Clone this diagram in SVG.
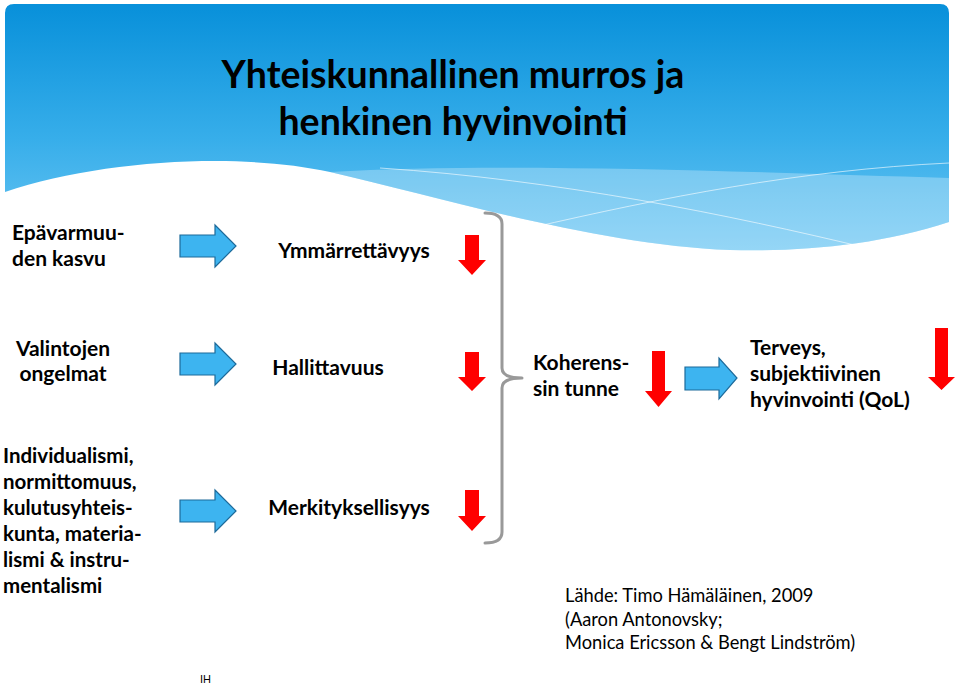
<svg xmlns="http://www.w3.org/2000/svg" width="960" height="684" viewBox="0 0 960 684">
<defs>
<linearGradient id="hdr" x1="0" y1="0" x2="0" y2="1">
<stop offset="0" stop-color="#0890da"/>
<stop offset="0.55" stop-color="#37aeea"/>
<stop offset="1" stop-color="#6cc6f3"/>
</linearGradient>
<path id="blueArrow" d="M0,-11 L35,-11 L35,-21 L56,0 L35,21 L35,11 L0,11 Z"/>
</defs>
<style>
.t{font-family:Lato,"Open Sans","DejaVu Sans",sans-serif;font-weight:bold;font-size:21px;fill:#000}
.l{font-size:20.5px}
.title{font-family:Lato,"Open Sans","DejaVu Sans",sans-serif;font-weight:bold;font-size:37.5px;fill:#000}
.src{font-family:Lato,"Open Sans","DejaVu Sans",sans-serif;font-size:18.3px;fill:#000}
.ba{fill:#3db4f0;stroke:#1d6a9a;stroke-width:1.2}
.ra{fill:#ff0000}
.brace{fill:none;stroke:#999;stroke-width:3;stroke-linecap:round;stroke-linejoin:round}
</style>
<rect width="960" height="684" fill="#fff"/>
<g id="header">
<path d="M5,13 Q5,4 14,4 L940,4 Q949,4 949,13 L949,222 C880,245 800,252 730,250 C600,245 450,200 330,172 C240,152 100,160 5,192 Z" fill="url(#hdr)"/>
<path d="M330,172 C500,162 750,172 949,178 L949,222 C880,245 800,252 730,250 C600,245 450,200 330,172 Z" fill="#fff" opacity="0.28"/>
<path d="M380,168 C560,180 730,215 867,248" fill="none" stroke="#fff" stroke-width="1" opacity="0.6"/>
<path d="M530,228 C660,198 800,170 949,163" fill="none" stroke="#fff" stroke-width="1" opacity="0.6"/>
<text class="title" x="453" y="88" text-anchor="middle">Yhteiskunnallinen murros ja</text>
<text class="title" x="453" y="135" text-anchor="middle">henkinen hyvinvointi</text>
</g>
<g id="n-epavarmuus"><text class="t" x="12" y="240">Epävarmuu-</text><text class="t" x="12" y="266">den kasvu</text></g>
<g id="n-valintojen"><text class="t" x="63" y="356" text-anchor="middle">Valintojen</text><text class="t" x="63" y="381" text-anchor="middle">ongelmat</text></g>
<g id="n-individualismi">
<text class="t l" x="3" y="463">Individualismi,</text>
<text class="t l" x="3" y="489">normittomuus,</text>
<text class="t l" x="3" y="515">kulutusyhteis-</text>
<text class="t l" x="3" y="541">kunta, materia-</text>
<text class="t l" x="3" y="567">lismi &amp; instru-</text>
<text class="t l" x="3" y="593">mentalismi</text>
</g>
<g id="n-ymmarrettavyys"><text class="t" x="354" y="258" text-anchor="middle">Ymmärrettävyys</text></g>
<g id="n-hallittavuus"><text class="t" x="328" y="375" text-anchor="middle">Hallittavuus</text></g>
<g id="n-merkityksellisyys"><text class="t" x="349" y="515" text-anchor="middle">Merkityksellisyys</text></g>
<g id="n-koherenssi"><text class="t" x="533" y="370">Koherens-</text><text class="t" x="533" y="396">sin tunne</text></g>
<g id="n-terveys"><text class="t" x="750" y="355">Terveys,</text><text class="t" x="750" y="381">subjektiivinen</text><text class="t" x="750" y="407">hyvinvointi (QoL)</text></g>
<g id="n-lahde">
<text class="src" x="565" y="602">Lähde: Timo Hämäläinen, 2009</text>
<text class="src" x="565" y="626">(Aaron Antonovsky;</text>
<text class="src" x="565" y="649">Monica Ericsson &amp; Bengt Lindström)</text>
</g>
<g id="n-ih"><text x="200" y="683" font-family="'Liberation Sans',Arial,sans-serif" font-size="11" fill="#000">IH</text></g>
<g id="connectors">
<use href="#blueArrow" class="ba" x="180" y="246"/>
<use href="#blueArrow" class="ba" x="180" y="364"/>
<use href="#blueArrow" class="ba" x="180" y="511"/>
<path class="ba" d="M685,367 L719,367 L719,358 L737,378 L719,399 L719,390 L685,390 Z"/>
<path class="ra" d="M465,235 L479,235 L479,260 L486,260 L472,275 L458,260 L465,260 Z"/>
<path class="ra" d="M465,352 L479,352 L479,377 L486,377 L472,391 L458,377 L465,377 Z"/>
<path class="ra" d="M465,490 L479,490 L479,516 L486,516 L472,531 L458,516 L465,516 Z"/>
<path class="ra" d="M652,351 L665,351 L665,391 L672,391 L658.5,407 L645,391 L652,391 Z"/>
<path class="ra" d="M935,328 L948,328 L948,377 L955,377 L941.5,390 L928,377 L935,377 Z"/>
<path class="brace" d="M485,213 Q502,213 502,224 L502,368 Q502,378 522,378 Q502,378 502,388 L502,532 Q502,543 485,543"/>
</g>
</svg>
